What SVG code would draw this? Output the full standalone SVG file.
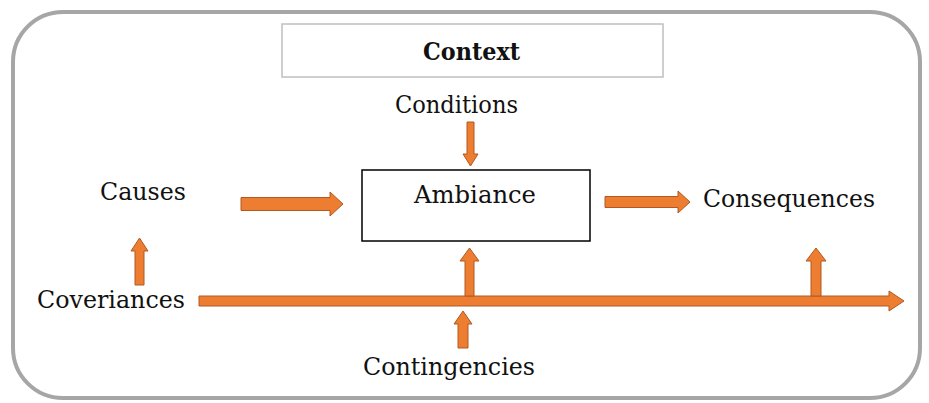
<svg xmlns="http://www.w3.org/2000/svg" width="929" height="403" viewBox="0 0 929 403">
  <style>
    .lbl { font-family: "DejaVu Serif", "Liberation Serif", serif; font-size: 25px; fill: #111; }
    .bold { font-weight: bold; }
    .blk { fill: #ED7D31; stroke: #B05A22; stroke-width: 1; stroke-linejoin: miter; }
  </style>
  <rect width="929" height="403" fill="#ffffff"/>

  <!-- outer frame -->
  <rect x="13" y="12" width="907" height="386" rx="50" ry="50" fill="none" stroke="#A6A6A6" stroke-width="4"/>

  <g id="context">
    <rect x="282" y="24" width="381" height="53" fill="#fff" stroke="#BFBFBF" stroke-width="1.5"/>
    <text class="lbl bold" x="471.5" y="60" text-anchor="middle" textLength="97" lengthAdjust="spacingAndGlyphs">Context</text>
  </g>

  <g id="conditions">
    <text class="lbl" x="395" y="113" textLength="123" lengthAdjust="spacingAndGlyphs">Conditions</text>
  </g>

  <g id="causes">
    <text class="lbl" x="100" y="200" textLength="86" lengthAdjust="spacingAndGlyphs">Causes</text>
  </g>

  <g id="ambiance">
    <rect x="362" y="170" width="228" height="71" fill="#fff" stroke="#000" stroke-width="1.5"/>
    <text class="lbl" x="414" y="203" textLength="122" lengthAdjust="spacingAndGlyphs">Ambiance</text>
  </g>

  <g id="consequences">
    <text class="lbl" x="703" y="207" textLength="172" lengthAdjust="spacingAndGlyphs">Consequences</text>
  </g>

  <g id="coveriances">
    <text class="lbl" x="37" y="308" textLength="148" lengthAdjust="spacingAndGlyphs">Coveriances</text>
  </g>

  <g id="contingencies">
    <text class="lbl" x="363" y="375" textLength="172" lengthAdjust="spacingAndGlyphs">Contingencies</text>
  </g>

  <g id="connectors">
    <!-- causes to ambiance -->
    <polygon class="blk" points="241,197.5 330,197.5 330,192 343,204 330,216 330,210.5 241,210.5"/>
    <!-- ambiance to consequences -->
    <polygon class="blk" points="605,196.5 678,196.5 678,191 690,202 678,213 678,207.5 605,207.5"/>
    <!-- conditions down into ambiance -->
    <polygon class="blk" points="467,122 474,122 474,154 478,154 470.5,166 463,154 467,154"/>
    <!-- coveriances up to causes -->
    <polygon class="blk" points="135,285 144,285 144,251 148,251 139.5,238 131,251 135,251"/>
    <!-- coveriances timeline -->
    <polygon class="blk" points="199,296 889,296 889,291 904,301 889,311 889,306 199,306"/>
    <!-- timeline up to ambiance -->
    <polygon class="blk" points="465,296 474,296 474,261 479,261 469.5,248 460,261 465,261"/>
    <!-- timeline up to consequences -->
    <polygon class="blk" points="811,296 821,296 821,261 826,261 816,248 806,261 811,261"/>
    <!-- contingencies up to timeline -->
    <polygon class="blk" points="458,348 468,348 468,324 472,324 463,311 454,324 458,324"/>
  </g>
</svg>
